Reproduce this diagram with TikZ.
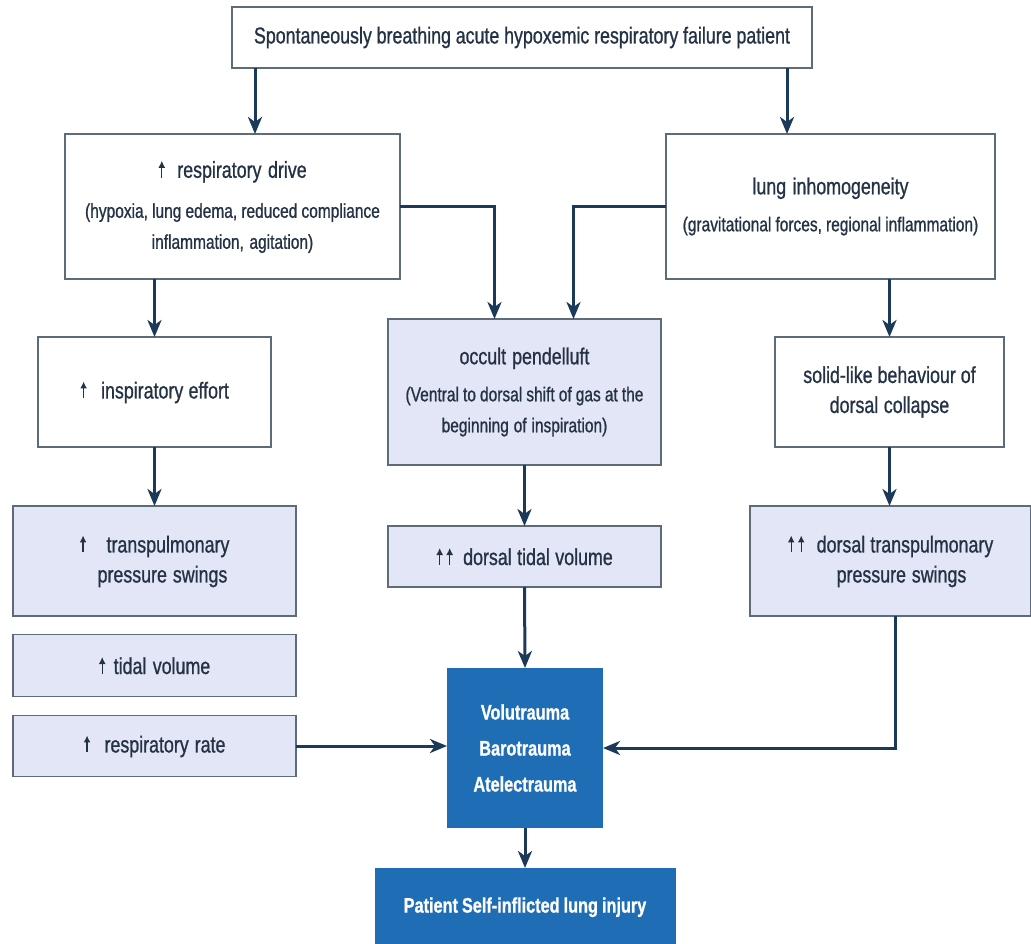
\documentclass[tikz,border=0pt]{standalone}
\usepackage{fontspec}
\setmainfont{Liberation Sans}[FakeStretch=0.775,FakeBold=0.9]
\usetikzlibrary{arrows.meta}
\definecolor{wire}{HTML}{1B3A5A}
\definecolor{boxline}{HTML}{5E6B78}
\definecolor{pale}{HTML}{E3E6F6}
\definecolor{deep}{HTML}{1F6DB5}
\definecolor{ink}{HTML}{243245}
% condensed text with tight word spacing
\newcommand{\tight}{\frenchspacing\spaceskip=0.19em plus 0.05em minus 0.03em\relax}
\newcommand{\bigtxt}{\fontsize{23}{30}\selectfont\tight}
\newcommand{\subtxt}{\fontsize{20}{31}\selectfont\tight}
% small up arrow used inside the labels
\newcommand{\up}{\tikz[baseline=0pt]\draw[ink, line width=1.4pt,
  -{Latex[length=7pt,width=7pt]}] (0pt,0pt) -- (0pt,17pt);\tight}
\begin{document}
\begin{tikzpicture}[x=1pt,y=-1pt,
  box/.style={draw=boxline, line width=1.7pt, rectangle, inner sep=0pt,
    outer sep=0pt, align=center, text=ink, font=\bigtxt,
    execute at begin node=\bigtxt},
  palebox/.style={box, fill=pale},
  deepbox/.style={rectangle, fill=deep, inner sep=0pt, outer sep=0pt,
    align=center, text=white, font=\fontsize{21}{36}\selectfont\bfseries\tight},
  arr/.style={draw=wire, line width=3pt,
    -{Stealth[length=17pt,width=14pt,inset=5pt]}},
  sz/.style 2 args={minimum width=#1pt, minimum height=#2pt, text width=#1pt-10pt}]
\useasboundingbox (0,0) rectangle (1031,944);
\fill[white] (0,0) rectangle (1031,944);

% top row
\node[box, sz={580}{61}] (top) at (522,37.5)
  {Spontaneously breathing acute hypoxemic respiratory failure patient};

% second row
\node[box, sz={335}{145}] (drive) at (232.5,206.5)
  {{\bigtxt \up\hspace{12pt}respiratory drive\par}\vspace{9pt}
   {\subtxt (hypoxia, lung edema, reduced compliance\\ inflammation, agitation)\par}};
\node[box, sz={329}{145}] (inhom) at (830.5,206.5)
  {{\bigtxt lung inhomogeneity\par}\vspace{6pt}
   {\subtxt (gravitational forces, regional inflammation)\par}};

% third row
\node[box, sz={233}{110}] (effort) at (154.5,392)
  {\up\hspace{14pt}inspiratory effort};
\node[palebox, sz={273}{146}] (pend) at (524.5,392)
  {{\bigtxt occult pendelluft\par}\vspace{6pt}
   {\subtxt (Ventral to dorsal shift of gas at the\\ beginning of inspiration)\par}};
\node[box, sz={229}{110}] (solid) at (889.5,392)
  {solid-like behaviour of\\ dorsal collapse};

% fourth row
\node[palebox, sz={283}{110}] (transp) at (154.5,561)
  {\up\hspace{20pt}transpulmonary\\ \hspace{16pt}pressure swings};
\node[palebox, sz={273}{61}] (dtidal) at (524.5,556.5)
  {\up\hspace{3pt}\up\hspace{10pt}dorsal tidal volume};
\node[palebox, sz={281}{110}] (dtransp) at (890.5,561)
  {\up\hspace{3pt}\up\hspace{12pt}dorsal transpulmonary\\ \hspace{22pt}pressure swings};

% left column
\node[palebox, sz={283}{62}] (tidal) at (154.5,665.5)
  {\up\hspace{8pt}tidal volume};
\node[palebox, sz={283}{61}] (rate) at (154.5,746)
  {\up\hspace{14pt}respiratory rate};

% outcome boxes
\node[deepbox, minimum width=156pt, minimum height=160pt] (trauma) at (525,748)
  {Volutrauma\\ Barotrauma\\ Atelectrauma};
\node[deepbox, minimum width=301pt, minimum height=80pt] (psili) at (525,908)
  {\raisebox{6pt}{Patient Self-inflicted lung injury}};

% connectors
\draw[arr] ([xshift=23pt]top.south west) coordinate (t1) -- (t1 |- drive.north);
\draw[arr] ([xshift=-25pt]top.south east) coordinate (t2) -- (t2 |- inhom.north);
\draw[arr] (drive.east) -| ([xshift=-30pt]pend.north);
\draw[arr] (inhom.west) -| ([xshift=49pt]pend.north);
\draw[arr] (effort.north |- drive.south) -- (effort.north);
\draw[arr] (effort.south) -- (transp.north);
\draw[arr] (solid.north |- inhom.south) -- (solid.north);
\draw[arr] (solid.south) -- (solid.south |- dtransp.north);
\draw[arr] (pend.south) -- (dtidal.north);
\draw[arr] (dtidal.south) -- (trauma.north);
\draw[arr] (rate.east) -- (rate.east -| trauma.west);
\draw[arr] ([xshift=5pt]dtransp.south) |- (trauma.east);
\draw[arr] (trauma.south) -- (psili.north);
\end{tikzpicture}
\end{document}
